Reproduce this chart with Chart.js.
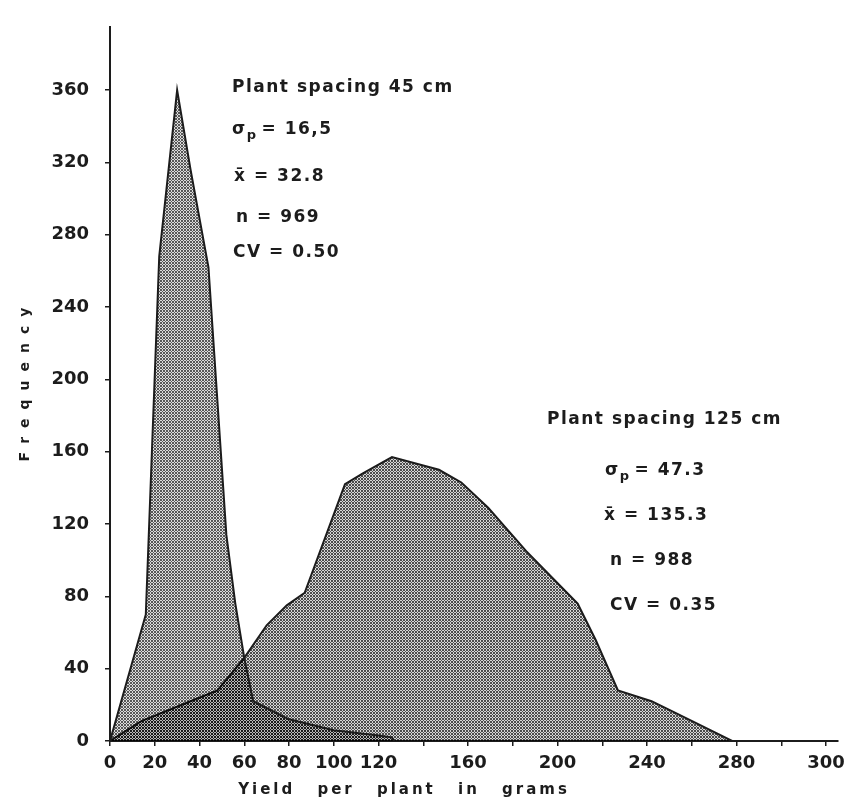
<!DOCTYPE html>
<html>
<head>
<meta charset="utf-8">
<title>Yield per plant</title>
<script src="https://cdn.jsdelivr.net/npm/chart.js@4.4.1/dist/chart.umd.min.js"></script>
<style>
  html, body { margin: 0; padding: 0; background: #fff; }
  canvas { display: block; }
</style>
</head>
<body>
<canvas id="chart" width="852" height="812"></canvas>
<script>
// plant spacing 45 cm
const yield45 = [0, 16, 22, 30, 36, 44, 52, 56, 60, 64, 80, 100, 120, 126, 127];
const freq45  = [0, 70, 268, 360, 316, 262, 114, 76, 46, 22, 12, 6, 3, 2, 0];

// plant spacing 125 cm
const yield125 = [0, 14, 36, 48, 60, 70, 79, 87, 105, 113, 126, 147, 157, 169, 186, 209, 217, 227, 242, 252, 278];
const freq125  = [0, 11, 22, 28, 46, 64, 75, 82, 142, 148, 157, 150, 143, 129, 105, 76, 56, 28, 22, 16, 0];

// axis ticks as printed (the last label "300" sits on the 320 tick)
const xTickValues = [0, 20, 40, 60, 80, 100, 120, 140, 160, 180, 200, 220, 240, 260, 280, 300, 320];
const xTickLabels = ['0', '20', '40', '60', '80', '100', '120', '', '160', '', '200', '', '240', '', '280', '', '300'];
const yTickValues = [0, 40, 80, 120, 160, 200, 240, 280, 320, 360];
const yTickLabels = ['0', '40', '80', '120', '160', '200', '240', '280', '320', '360'];

const ink = '#1c1c1c';
const tickFont = { family: 'DejaVu Sans', size: 18, weight: 'bold' };
const noteFont = 'bold 17px "DejaVu Sans"';

// pixel crosshatch like the scanned screen tone
function makeHatch(dark, light) {
    const n = 6;
    const c = document.createElement('canvas');
    c.width = c.height = n;
    const g = c.getContext('2d');
    const img = g.createImageData(n, n);
    for (let j = 0; j < n; j++) {
        for (let i = 0; i < n; i++) {
            const on = (i + j) % 3 === 0 || ((i - j) % 3 + 3) % 3 === 0;
            const p = (j * n + i) * 4;
            img.data[p + 3] = Math.round((on ? dark : light) * 255);
        }
    }
    g.putImageData(img, 0, 0);
    return g.createPattern(c, 'repeat');
}

const hatch45 = makeHatch(0.66, 0.14);
const hatch125 = makeHatch(0.7, 0.16);

function drawSigma(ctx, x, y, rest) {
    ctx.font = noteFont;
    ctx.fillText('σ', x, y);
    let w = ctx.measureText('σ').width;
    ctx.font = 'bold 13px "DejaVu Sans"';
    ctx.fillText('p', x + w, y + 6);
    w += ctx.measureText('p').width + 4;
    ctx.font = noteFont;
    ctx.fillText(rest, x + w, y);
}

// text notes and axis titles
const notesPlugin = {
    id: 'notes',
    afterDraw(chart) {
        const ctx = chart.ctx;
        ctx.save();
        ctx.fillStyle = ink;
        ctx.textBaseline = 'middle';
        ctx.textAlign = 'left';
        ctx.letterSpacing = '1.5px';

        ctx.font = noteFont;
        ctx.fillText('Plant spacing 45 cm', 232, 88);
        drawSigma(ctx, 232, 130, '= 16,5');
        ctx.fillText('x̄ = 32.8', 234, 177);
        ctx.fillText('n = 969', 236, 218);
        ctx.fillText('CV = 0.50', 233, 253);

        ctx.fillText('Plant spacing 125 cm', 547, 420);
        drawSigma(ctx, 605, 471, '= 47.3');
        ctx.fillText('x̄ = 135.3', 604, 516);
        ctx.fillText('n = 988', 610, 561);
        ctx.fillText('CV = 0.35', 610, 606);

        // axis titles
        ctx.textAlign = 'center';
        ctx.font = 'bold 15px "DejaVu Sans"';
        ctx.letterSpacing = '3px';
        ctx.wordSpacing = '14px';
        ctx.fillText('Yield per plant in grams', 404, 790);

        ctx.translate(25, 380);
        ctx.rotate(-Math.PI / 2);
        ctx.font = 'bold 14px "DejaVu Sans"';
        ctx.letterSpacing = '9px';
        ctx.fillText('Frequency', 0, 0);
        ctx.restore();
    }
};

new Chart(document.getElementById('chart'), {
    type: 'line',
    data: {
        datasets: [
            {
                label: 'Plant spacing 45 cm',
                data: yield45.map((x, i) => ({ x: x, y: freq45[i] })),
                backgroundColor: hatch45,
                borderColor: ink,
                borderWidth: 2,
                fill: 'origin',
                pointRadius: 0,
                tension: 0
            },
            {
                label: 'Plant spacing 125 cm',
                data: yield125.map((x, i) => ({ x: x, y: freq125[i] })),
                backgroundColor: hatch125,
                borderColor: ink,
                borderWidth: 2,
                fill: 'origin',
                pointRadius: 0,
                tension: 0
            }
        ]
    },
    options: {
        responsive: false,
        animation: false,
        devicePixelRatio: 1,
        layout: { padding: { top: 17, right: 9, left: 0, bottom: 0 } },
        plugins: {
            legend: { display: false },
            tooltip: { enabled: false }
        },
        scales: {
            x: {
                type: 'linear',
                min: 0,
                max: 325,
                afterBuildTicks: s => { s.ticks = xTickValues.map(v => ({ value: v })); },
                afterFit: s => { s.height = 71; },
                ticks: {
                    autoSkip: false,
                    maxRotation: 0,
                    padding: 7,
                    color: ink,
                    font: tickFont,
                    callback: (v, i) => xTickLabels[i]
                },
                grid: { drawOnChartArea: false, drawTicks: true, tickLength: 5, color: ink, lineWidth: 1.5 },
                border: { color: ink, width: 2 }
            },
            y: {
                min: 0,
                max: 395,
                afterBuildTicks: s => { s.ticks = yTickValues.map(v => ({ value: v })); },
                afterFit: s => { s.width = 110; },
                ticks: {
                    padding: 16,
                    color: ink,
                    font: tickFont,
                    callback: (v, i) => yTickLabels[i]
                },
                grid: { drawOnChartArea: false, drawTicks: true, tickLength: 5, color: ink, lineWidth: 1.5 },
                border: { color: ink, width: 2 }
            }
        }
    },
    plugins: [notesPlugin]
});
</script>
</body>
</html>
